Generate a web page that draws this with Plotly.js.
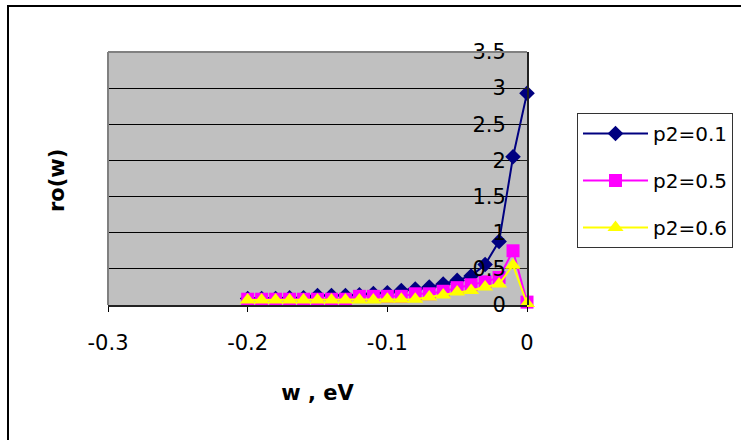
<!DOCTYPE html>
<html>
<head>
<meta charset="utf-8">
<script src="https://cdn.plot.ly/plotly-3.0.1.min.js"></script>
<style>
html,body{margin:0;padding:0;background:#fff;}
#chart{width:741px;height:440px;}
</style>
</head>
<body>
<div id="chart"></div>
<script>
// Data
var w = [-0.2, -0.19, -0.18, -0.17, -0.16, -0.15, -0.14, -0.13, -0.12, -0.11, -0.1,
         -0.09, -0.08, -0.07, -0.06, -0.05, -0.04, -0.03, -0.02, -0.01, 0];
var p2_01 = [0.09, 0.09, 0.09, 0.10, 0.10, 0.13, 0.13, 0.13, 0.14, 0.16, 0.17,
             0.20, 0.22, 0.25, 0.29, 0.34, 0.40, 0.56, 0.88, 2.05, 2.93];
var p2_05 = [0.08, 0.08, 0.08, 0.08, 0.08, 0.08, 0.08, 0.08, 0.12, 0.12, 0.12,
             0.12, 0.155, 0.155, 0.19, 0.24, 0.28, 0.32, 0.38, 0.75, 0.04];
var p2_06 = [0.07, 0.07, 0.07, 0.07, 0.07, 0.07, 0.07, 0.07, 0.07, 0.07, 0.08,
             0.08, 0.08, 0.11, 0.14, 0.18, 0.20, 0.25, 0.29, 0.55, 0.02];
var seriesNames = ["p2=0.1", "p2=0.5", "p2=0.6"];
var xTickVals = [-0.3, -0.2, -0.1, 0];
var xTickText = ["-0.3", "-0.2", "-0.1", "0"];
var yTickVals = [0, 0.5, 1, 1.5, 2, 2.5, 3, 3.5];
var yTickText = ["0", "0.5", "1", "1.5", "2", "2.5", "3", "3.5"];

var FONT = "DejaVu Sans, Arial, sans-serif";

var traces = [
  {x: w, y: p2_01, name: seriesNames[0], type: "scatter", mode: "lines+markers",
   line: {color: "#000080", width: 2},
   marker: {symbol: "diamond", size: 12, color: "#000080"},
   cliponaxis: false, legendgroup: "a"},
  {x: w, y: p2_05, name: seriesNames[1], type: "scatter", mode: "lines+markers",
   line: {color: "#FF00FF", width: 2},
   marker: {symbol: "square", size: 13, color: "#FF00FF"},
   cliponaxis: false, legendgroup: "b"},
  {x: w, y: p2_06, name: seriesNames[2], type: "scatter", mode: "lines+markers",
   line: {color: "#FFFF00", width: 2},
   marker: {symbol: "triangle-up", size: 14, color: "#FFFF00"},
   cliponaxis: false, legendgroup: "c"}
];

var layout = {
  width: 741, height: 440,
  margin: {l: 108, r: 214, t: 52, b: 135},
  paper_bgcolor: "#ffffff",
  plot_bgcolor: "#C0C0C0",
  font: {family: FONT, size: 21, color: "#000"},
  showlegend: true,
  xaxis: {
    range: [-0.3, 0],
    tickvals: xTickVals, ticktext: xTickText,
    ticks: "outside", ticklen: 5, tickcolor: "#000", tickwidth: 1,
    showgrid: false, zeroline: false,
    showline: true, linecolor: "#222", linewidth: 1.5,
    ticklabelstandoff: 13,
    tickfont: {family: FONT, size: 21, color: "#000"},
    title: {text: "w , eV", font: {family: FONT, size: 21, weight: "bold", color: "#000"}, standoff: 31}
  },
  yaxis: {
    range: [0, 3.5],
    anchor: "free", position: 1, side: "left",
    tickvals: yTickVals, ticktext: yTickText,
    ticks: "outside", ticklen: 7, tickcolor: "#222", tickwidth: 1,
    showgrid: true, gridcolor: "#000", gridwidth: 1,
    zeroline: false,
    showline: true, linecolor: "#222", linewidth: 1.5,
    ticklabelstandoff: 10,
    tickfont: {family: FONT, size: 21, color: "#000"}
  },
  legend: {
    xref: "container", yref: "container",
    x: 577 / 741, y: (440 - 113) / 440,
    xanchor: "left", yanchor: "top",
    bgcolor: "#ffffff", bordercolor: "#333", borderwidth: 1,
    font: {family: FONT, size: 20, color: "#000"},
    itemwidth: 65,
    traceorder: "grouped", tracegroupgap: 18
  },
  annotations: [
    {xref: "paper", yref: "paper", x: (57 - 108) / 419, y: 0.49,
     xanchor: "center", yanchor: "middle",
     text: "ro(w)", showarrow: false, textangle: -90,
     font: {family: FONT, size: 21, weight: "bold", color: "#000"}}
  ],
  shapes: [
    // plot area top & left edges (gray)
    {type: "line", xref: "paper", yref: "paper", x0: 0, x1: 1, y0: 1, y1: 1,
     line: {color: "#808080", width: 2}, layer: "above"},
    {type: "line", xref: "paper", yref: "paper", x0: 0, x1: 0, y0: 0, y1: 1,
     line: {color: "#808080", width: 2}, layer: "above"},
    // outer chart border
    {type: "rect", xref: "paper", yref: "paper",
     x0: (8 - 108) / 419, x1: (760 - 108) / 419,
     y0: (305 - 460) / 253, y1: (305 - 6) / 253,
     line: {color: "#000", width: 2}, layer: "above"}
  ]
};

Plotly.newPlot("chart", traces, layout, {displayModeBar: false, staticPlot: true});
</script>
</body>
</html>
